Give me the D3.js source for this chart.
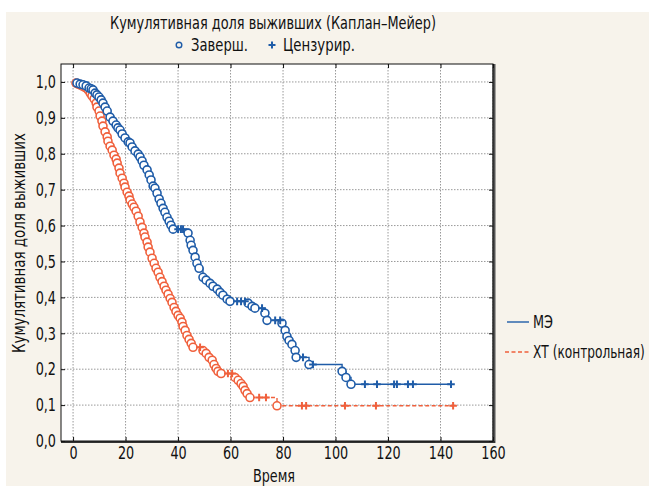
<!DOCTYPE html>
<html><head><meta charset="utf-8">
<script src="https://cdn.jsdelivr.net/npm/d3@7"></script>
<style>
body{margin:0;background:#fff}
svg{display:block}
text{font-family:"Liberation Sans Narrow","DejaVu Sans Condensed","Arial Narrow",sans-serif;fill:#111}
</style></head>
<body><svg id="c" width="649" height="486"></svg>
<script>
// ---- data ----
const xTicks = [0,20,40,60,80,100,120,140,160];
const yTicks = [0,0.1,0.2,0.3,0.4,0.5,0.6,0.7,0.8,0.9,1.0];
const seriesNames = ["МЭ","ХТ (контрольная)"];

const blueEventT = [1.5,2.7,3.8,5.0,6.1,6.9,7.6,8.4,9.1,9.9,10.7,11.4,12.2,13.0,14.1,15.2,16.4,17.1,17.9,18.7,19.8,21.0,21.7,22.5,23.6,24.8,25.5,26.3,27.0,28.2,29.0,29.7,30.5,31.2,32.0,32.8,33.5,34.3,35.0,35.8,36.6,37.3,38.1,43.8,44.6,45.0,45.7,46.5,47.2,48.0,49.5,50.7,52.2,53.3,54.9,56.0,57.1,58.7,59.8,66.7,68.2,69.3,73.1,73.9,79.6,80.8,81.5,82.3,83.4,84.6,85.0,89.9,102.5,104.0,105.9];
const blueEventS = [0.997,0.994,0.992,0.989,0.983,0.981,0.978,0.969,0.964,0.958,0.950,0.941,0.930,0.919,0.902,0.891,0.880,0.872,0.866,0.855,0.844,0.833,0.830,0.819,0.808,0.799,0.791,0.780,0.768,0.755,0.741,0.727,0.710,0.704,0.690,0.674,0.662,0.648,0.637,0.623,0.612,0.601,0.590,0.579,0.559,0.545,0.531,0.512,0.495,0.481,0.456,0.448,0.439,0.431,0.423,0.414,0.406,0.395,0.389,0.384,0.375,0.370,0.356,0.336,0.328,0.308,0.291,0.280,0.269,0.252,0.233,0.213,0.194,0.177,0.158];
const blueCensorT = [40.0,41.1,41.9,62.5,64.0,65.5,72.0,77.0,78.9,87.6,91.4,111.2,115.8,122.3,123.4,127.6,129.5,144.0];

const redEventT = [1.1,1.9,2.7,3.4,4.2,5.0,5.7,6.5,7.2,8.0,8.8,9.1,9.9,10.3,11.0,11.4,12.2,13.0,13.3,14.1,14.9,15.6,16.4,16.8,17.5,17.9,18.7,19.4,19.8,20.6,21.3,21.7,22.5,23.2,24.0,24.8,25.5,26.3,27.0,27.4,28.2,28.6,29.3,30.1,30.9,31.6,32.4,33.1,33.9,34.7,35.4,36.2,37.0,37.7,38.5,39.2,40.0,40.8,41.5,41.9,42.7,43.4,44.2,45.0,45.7,49.5,50.7,51.8,53.0,53.7,54.5,55.2,56.4,61.7,62.9,64.0,64.8,65.5,66.3,67.4,77.7];
const redEventS = [0.997,0.994,0.992,0.989,0.986,0.983,0.978,0.969,0.961,0.953,0.941,0.930,0.919,0.905,0.891,0.877,0.861,0.847,0.835,0.821,0.810,0.796,0.785,0.774,0.760,0.746,0.732,0.718,0.707,0.693,0.682,0.671,0.660,0.651,0.640,0.626,0.610,0.595,0.579,0.568,0.554,0.540,0.526,0.509,0.495,0.481,0.470,0.456,0.444,0.431,0.420,0.409,0.397,0.386,0.372,0.361,0.350,0.342,0.331,0.319,0.308,0.294,0.283,0.272,0.261,0.252,0.244,0.233,0.225,0.213,0.202,0.194,0.188,0.177,0.169,0.160,0.152,0.141,0.132,0.121,0.098];
const redCensorT = [48.4,59.0,60.6,70.9,73.5,87.2,88.8,103.6,115.4,144.8];

// ---- layout ----
const svg = d3.select("#c");
const L = 61, R = 493, T = 64, B = 441;
const BLUE = "#1f5ca8", RED = "#f0603c";
svg.append("rect").attr("x",6).attr("y",12).attr("width",643).attr("height",474).attr("fill","#f7f3eb");
svg.append("rect").attr("x",L).attr("y",T).attr("width",R-L).attr("height",B-T).attr("fill","#fff");

const x = d3.scaleLinear().domain([-4.6,160]).range([L,R]);
const y = d3.scaleLinear().domain([0,1.05]).range([B,T]);

// grid
const gg = svg.append("g");
gg.selectAll("line.v").data(xTicks).join("line")
  .attr("x1",d=>x(d)).attr("x2",d=>x(d)).attr("y1",T).attr("y2",B)
  .attr("stroke","#999").attr("stroke-dasharray","1.5,1.5");
gg.selectAll("line.h").data(yTicks.filter(d=>d>0)).join("line")
  .attr("x1",L).attr("x2",R).attr("y1",d=>y(d)).attr("y2",d=>y(d))
  .attr("stroke","#999").attr("stroke-dasharray","1.5,1.5");

function stepPts(ts, ss, endT){
  const p=[[0,1]]; let prev=1;
  ts.forEach((t,i)=>{p.push([t,prev]); p.push([t,ss[i]]); prev=ss[i];});
  p.push([endT,prev]); return p;
}
function survAt(ts, ss, t){
  let s=1; ts.forEach((tt,i)=>{ if(tt<=t) s=ss[i];}); return s;
}
const line = d3.line().x(d=>x(d[0])).y(d=>y(d[1]));

function drawSeries(ts, ss, cs, color, dash){
  const endT = d3.max(cs.concat(ts));
  svg.append("path").attr("d",line(stepPts(ts,ss,endT))).attr("fill","none")
    .attr("stroke",color).attr("stroke-width",1.4).attr("stroke-dasharray",dash);
  svg.append("g").selectAll("circle").data(ts.map((t,i)=>[t,ss[i]])).join("circle")
    .attr("cx",d=>x(d[0])).attr("cy",d=>y(d[1])).attr("r",4)
    .attr("fill","#fff").attr("stroke",color).attr("stroke-width",1.6);
  const g = svg.append("g");
  cs.forEach(t=>{
    const cx=x(t), cy=y(survAt(ts,ss,t));
    g.append("path").attr("d",`M${cx-3.8},${cy}H${cx+3.8}M${cx},${cy-3.8}V${cy+3.8}`)
      .attr("stroke",color).attr("stroke-width",2);
  });
}
drawSeries(redEventT, redEventS, redCensorT, RED, "4,2.5");
drawSeries(blueEventT, blueEventS, blueCensorT, BLUE, null);

// frame
svg.append("line").attr("x1",R+1).attr("x2",R+1).attr("y1",T).attr("y2",B+2).attr("stroke","#555").attr("stroke-width",3);
svg.append("line").attr("x1",L).attr("x2",R+2).attr("y1",B+1).attr("y2",B+1).attr("stroke","#333").attr("stroke-width",2);
svg.append("rect").attr("x",L).attr("y",T).attr("width",R-L).attr("height",B-T).attr("fill","none").attr("stroke","#111").attr("stroke-width",1);

// axes
const fmt = d=>d.toFixed(1).replace(".",",");
const ax = svg.append("g").attr("transform",`translate(${L},0)`)
  .call(d3.axisLeft(y).tickValues(yTicks).tickSizeInner(-4).tickSizeOuter(0).tickPadding(5).tickFormat(fmt));
const bx = svg.append("g").attr("transform",`translate(0,${B})`)
  .call(d3.axisBottom(x).tickValues(xTicks).tickSizeInner(-4).tickSizeOuter(0).tickPadding(5).tickFormat(d3.format("d")));
const tx = svg.append("g").attr("transform",`translate(0,${T})`)
  .call(d3.axisTop(x).tickValues(xTicks).tickSizeInner(-4).tickSizeOuter(0).tickFormat(""));
const rx = svg.append("g").attr("transform",`translate(${R},0)`)
  .call(d3.axisRight(y).tickValues(yTicks).tickSizeInner(-4).tickSizeOuter(0).tickFormat(""));
[ax,bx,tx,rx].forEach(g=>{
  g.select(".domain").remove();
  g.selectAll("line").attr("stroke","#111");
  g.selectAll("text").attr("font-family",null).attr("font-size",18).attr("fill","#111");
});

// titles
svg.append("text").attr("x",273).attr("y",29).attr("text-anchor","middle").attr("font-size",18)
  .attr("data-w",326).text("Кумулятивная доля выживших (Каплан–Мейер)");
svg.append("circle").attr("cx",179).attr("cy",45).attr("r",2.8).attr("fill","none").attr("stroke",BLUE).attr("stroke-width",1.4);
svg.append("text").attr("x",191).attr("y",51).attr("font-size",18).attr("data-w",57).text("Заверш.");
svg.append("path").attr("d","M268.5,45H275.5M272,41.5V48.5").attr("stroke",BLUE).attr("stroke-width",2);
svg.append("text").attr("x",283).attr("y",51).attr("font-size",18).attr("data-w",72).text("Цензурир.");

svg.append("text").attr("x",274).attr("y",482).attr("text-anchor","middle").attr("font-size",18).text("Время");
svg.append("text").attr("transform","translate(25,243) rotate(-90)").attr("text-anchor","middle").attr("font-size",18)
  .attr("data-w",220).text("Кумулятивная доля выживших");

// legend
svg.append("line").attr("x1",507).attr("x2",529).attr("y1",322).attr("y2",322).attr("stroke",BLUE).attr("stroke-width",1.4);
svg.append("text").attr("x",533).attr("y",328).attr("font-size",18).text(seriesNames[0]);
svg.append("line").attr("x1",505).attr("x2",530).attr("y1",352).attr("y2",352).attr("stroke",RED).attr("stroke-width",1.4).attr("stroke-dasharray","4,2.5");

// condense text to match the narrow reference face
svg.selectAll("text").each(function(){
  const w = this.getComputedTextLength();
  const target = this.getAttribute("data-w") ? +this.getAttribute("data-w") : w*0.79;
  this.setAttribute("textLength", target);
  this.setAttribute("lengthAdjust","spacingAndGlyphs");
});

// long legend label: condensed by a smaller face stretched vertically, so its box stays inside the page
const lt = svg.append("text").attr("x",0).attr("y",0).attr("font-size",18).text(seriesNames[1]);
const lw = lt.node().getComputedTextLength();
const k = 112 / lw;
lt.attr("font-size",18*k).attr("transform",`translate(533,358) scale(1,${1/k})`);
</script></body></html>
